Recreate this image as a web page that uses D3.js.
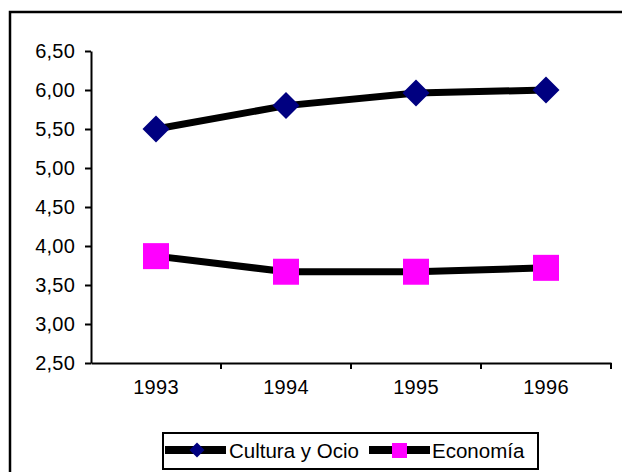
<!DOCTYPE html>
<html>
<head>
<meta charset="utf-8">
<script src="https://cdn.jsdelivr.net/npm/d3@7"></script>
<style>
  body { margin: 0; background: #fff; }
  svg text { font-family: "Liberation Sans", Arial, sans-serif; fill: #000; }
</style>
</head>
<body>
<svg id="chart" width="622" height="472"></svg>
<script>
const years = ["1993", "1994", "1995", "1996"];
const cultura = [5.50, 5.80, 5.96, 6.00];
const economia = [3.87, 3.67, 3.67, 3.72];
const yTicks = [2.5, 3.0, 3.5, 4.0, 4.5, 5.0, 5.5, 6.0, 6.5];
const seriesNames = ["Cultura y Ocio", "Economía"];

const svg = d3.select("#chart");
const plot = { left: 91, right: 611, top: 51, bottom: 363 };

// comma decimal, like the spanish excel original
const esLocale = d3.formatLocale({ decimal: ",", thousands: ".", grouping: [3], currency: ["", "€"] });
const fmt = esLocale.format(".2f");

// outer chart frame (runs off the right / bottom of the picture)
svg.append("rect")
  .attr("x", 10).attr("y", 12)
  .attr("width", 640).attr("height", 500)
  .attr("fill", "none").attr("stroke", "#000").attr("stroke-width", 2.5);

const x = d3.scaleBand().domain(years).range([plot.left, plot.right]);
const y = d3.scaleLinear().domain([2.5, 6.5]).range([plot.bottom, plot.top]);

// y axis
const yAxis = svg.append("g")
  .attr("transform", `translate(${plot.left},0)`)
  .call(d3.axisLeft(y).tickValues(yTicks).tickFormat(fmt).tickSize(6).tickPadding(10).tickSizeOuter(0));
yAxis.select(".domain").attr("stroke-width", 2);
yAxis.selectAll(".tick line").attr("stroke-width", 2);
yAxis.selectAll("text").attr("font-size", 20).attr("letter-spacing", 0.2);

// x axis: labels centred in bands, ticks on band edges
const xAxis = svg.append("g")
  .attr("transform", `translate(0,${plot.bottom})`)
  .call(d3.axisBottom(x).tickSize(0).tickPadding(17).tickSizeOuter(0));
xAxis.select(".domain").attr("stroke-width", 2);
xAxis.selectAll("text").attr("font-size", 20).attr("letter-spacing", 0.3);
xAxis.selectAll("line.edge")
  .data(years)
  .join("line")
  .attr("class", "edge")
  .attr("x1", d => x(d) + x.step()).attr("x2", d => x(d) + x.step())
  .attr("y1", 0).attr("y2", 6)
  .attr("stroke", "#000").attr("stroke-width", 2);

const line = d3.line()
  .x((d, i) => x(years[i]) + x.bandwidth() / 2)
  .y(d => y(d));

[cultura, economia].forEach(vals => {
  svg.append("path")
    .datum(vals)
    .attr("d", line)
    .attr("fill", "none")
    .attr("stroke", "#000")
    .attr("stroke-width", 7);
});

// markers
svg.append("g").selectAll("path")
  .data(cultura)
  .join("path")
  .attr("transform", (d, i) => `translate(${x(years[i]) + x.bandwidth() / 2},${y(d)})`)
  .attr("d", "M0,-13.5L13.5,0L0,13.5L-13.5,0Z")
  .attr("fill", "#000080");

svg.append("g").selectAll("rect")
  .data(economia)
  .join("rect")
  .attr("x", (d, i) => x(years[i]) + x.bandwidth() / 2 - 13)
  .attr("y", d => y(d) - 13)
  .attr("width", 26).attr("height", 26)
  .attr("fill", "#ff00ff");

// legend
const legend = svg.append("g");
legend.append("rect")
  .attr("x", 163).attr("y", 433)
  .attr("width", 375).attr("height", 36)
  .attr("fill", "#fff").attr("stroke", "#000").attr("stroke-width", 2);

const legendItems = [
  { name: seriesNames[0], x0: 165, text: 229 },
  { name: seriesNames[1], x0: 369, text: 432 }
];
legendItems.forEach((it, i) => {
  legend.append("line")
    .attr("x1", it.x0).attr("x2", it.x0 + 61)
    .attr("y1", 450).attr("y2", 450)
    .attr("stroke", "#000").attr("stroke-width", 8);
  if (i === 0) {
    legend.append("path")
      .attr("transform", `translate(${it.x0 + 32},450)`)
      .attr("d", "M0,-7.5L7.5,0L0,7.5L-7.5,0Z")
      .attr("fill", "#000080");
  } else {
    legend.append("rect")
      .attr("x", it.x0 + 23).attr("y", 443)
      .attr("width", 15).attr("height", 15)
      .attr("fill", "#ff00ff");
  }
  legend.append("text")
    .attr("x", it.text).attr("y", 451)
    .attr("dy", "0.35em")
    .attr("font-size", 20.5)
    .text(it.name);
});
</script>
</body>
</html>
